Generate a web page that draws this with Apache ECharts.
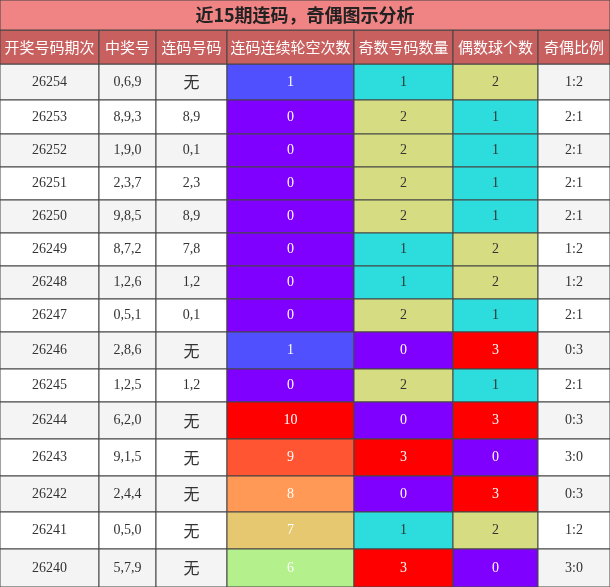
<!DOCTYPE html><html><head><meta charset="utf-8">
<script src="https://cdn.jsdelivr.net/npm/echarts@6/dist/echarts.min.js"></script>
<style>html,body{margin:0;padding:0;background:#fff}#c{width:610px;height:587px}</style></head><body><div id="c"></div>
<script>
const title='近15期连码，奇偶图示分析';
const headers=['开奖号码期次','中奖号','连码号码','连码连续轮空次数','奇数号码数量','偶数球个数','奇偶比例'];
const issues=['26254','26253','26252','26251','26250','26249','26248','26247','26246','26245','26244','26243','26242','26241','26240'];
const draws=['0,6,9','8,9,3','1,9,0','2,3,7','9,8,5','8,7,2','1,2,6','0,5,1','2,8,6','1,2,5','6,2,0','9,1,5','2,4,4','0,5,0','5,7,9'];
const pairs=['无','8,9','0,1','2,3','8,9','7,8','1,2','0,1','无','1,2','无','无','无','无','无'];
const gaps=[1,0,0,0,0,0,0,0,1,0,10,9,8,7,6];
const oddCounts=[1,2,2,2,2,1,1,2,0,2,0,3,0,1,3];
const evenCounts=[2,1,1,1,1,2,2,1,3,1,3,0,3,2,0];
const ratios=['1:2','2:1','2:1','2:1','2:1','1:2','1:2','2:1','0:3','2:1','0:3','3:0','0:3','1:2','3:0'];
// layout
const colEdges=[0,99,156,227,354,453,538,610];
const rowEdges=[64,100,134,167,200,233,266,299,332,369,402,439,476,512,549,587];
const gapColors={0:'#8000ff',1:'#5050ff',10:'#ff0000',9:'#ff5533',8:'#ff9955',7:'#e6c870',6:'#b4f08c'};
const cntColors={0:'#8000ff',1:'#2ddcdc',2:'#d6dc82',3:'#ff0000'};
const cntText={0:'#fff',1:'#333',2:'#333',3:'#fff'};
const cells=[];
issues.forEach((v,r)=>{
 const bg=r%2===0?'#f4f4f4':'#ffffff';
 const row=[[issues[r],bg,'#333',14],[draws[r],bg,'#333',14],[pairs[r],bg,'#333',pairs[r]==='无'?16:14],
  [String(gaps[r]),gapColors[gaps[r]],'#fff',14],[String(oddCounts[r]),cntColors[oddCounts[r]],cntText[oddCounts[r]],14],
  [String(evenCounts[r]),cntColors[evenCounts[r]],cntText[evenCounts[r]],14],[ratios[r],bg,'#333',14]];
 row.forEach((c,ci)=>cells.push([colEdges[ci],rowEdges[r],colEdges[ci+1],rowEdges[r+1],c[0],c[1],c[2],c[3]]));
});
headers.forEach((h,ci)=>cells.push([colEdges[ci],30,colEdges[ci+1],64,h,'#c8605f','#fff',15]));
cells.push([0,0,610,30,title,'#f08383','#222',18,'bold']);
function ri(params,api){
 const d=cells[params.dataIndex];
 const p1=api.coord([d[0],d[1]]),p2=api.coord([d[2],d[3]]);
 const x=p1[0],y=Math.min(p1[1],p2[1]),w=p2[0]-p1[0],h=Math.abs(p2[1]-p1[1]);
 return {type:'group',children:[
  {type:'rect',shape:{x:x,y:y,width:w,height:h},style:{fill:d[5],stroke:'#444',lineWidth:1}},
  {type:'text',style:{x:x+w/2,y:y+h/2,text:d[4],fill:d[6],fontSize:d[7],fontWeight:d[8]||'normal',
   fontFamily:/[\u4e00-\u9fff]/.test(d[4])?'Noto Sans CJK SC':'Liberation Serif',align:'center',verticalAlign:'middle'}}]};
}
const chart=echarts.init(document.getElementById('c'));
chart.setOption({animation:false,
 grid:{left:0,right:0,top:0,bottom:0},
 xAxis:{type:'value',min:0,max:610,show:false},
 yAxis:{type:'value',min:0,max:587,inverse:true,show:false},
 series:[{type:'custom',renderItem:ri,data:cells.map((c,i)=>[c[0],c[1],i])}]});
</script></body></html>
